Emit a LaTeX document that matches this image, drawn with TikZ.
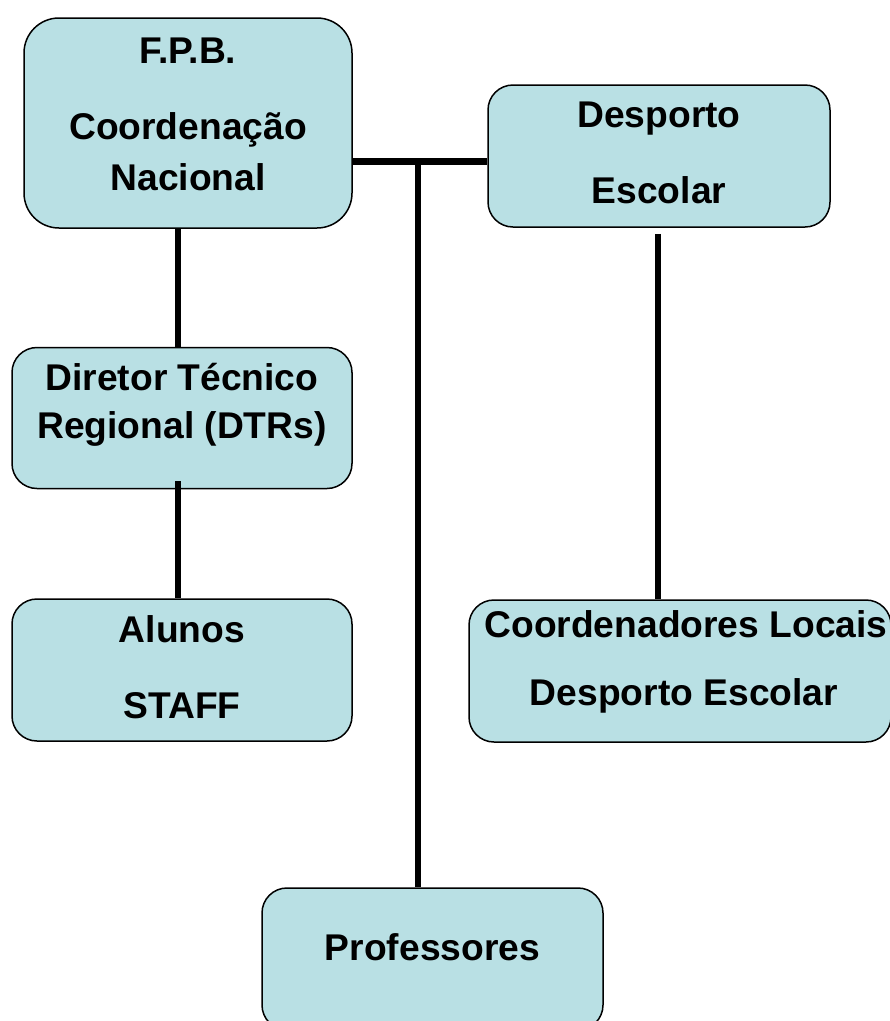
\documentclass[tikz,border=0pt]{standalone}
\usepackage{fontspec}
\setmainfont{Liberation Sans}
\definecolor{boxfill}{RGB}{185,224,228}
\begin{document}
\begin{tikzpicture}[x=1pt,y=-1pt,
  orgbox/.style={draw=black, line width=1.5pt, fill=boxfill, rounded corners=25pt, inner sep=0pt},
  lbl/.style={anchor=base, font=\fontsize{37.2}{44}\selectfont\bfseries, inner sep=0pt},
  conn/.style={line width=6.5pt}]
\useasboundingbox (0,0) rectangle (890,1021);
\begin{scope}
\clip (0,0) rectangle (890,1021);
% boxes
\node[orgbox, rounded corners=35pt, minimum width=328pt, minimum height=210pt] (fpb) at (188,123) {};
\node[orgbox, minimum width=342pt, minimum height=142pt] (desp) at (659,156) {};
\node[orgbox, minimum width=340pt, minimum height=141pt] (dtr) at (182,418) {};
\node[orgbox, minimum width=340pt, minimum height=142pt] (alunos) at (182,670) {};
\node[orgbox, minimum width=422pt, minimum height=142pt] (coord) at (680,671) {};
\node[orgbox, minimum width=341pt, minimum height=142pt] (prof) at (432.5,959) {};
% junction coordinates
\coordinate (j) at (418,161.5);
\coordinate (lx) at (178,0);
\coordinate (rx) at (658,0);
% connectors
\draw[conn] (fpb.east |- j) -- (desp.west |- j);
\draw[conn] (j) -- (j |- prof.north);
\draw[conn] (lx |- fpb.south) -- (lx |- dtr.north);
\draw[conn] ([yshift=8pt]dtr.south -| lx) -- (lx |- alunos.north);
\draw[conn] ([yshift=-6pt]desp.south -| rx) -- (rx |- coord.north);
% texts
\node[lbl] (t1) at (188,63) {F.P.B.};
\node[lbl] (t2) at (188,139) {Coordenação};
\node[lbl] (t3) at (188,190) {Nacional};
\node[lbl] (t4) at (659,127) {Desporto};
\node[lbl] (t5) at (659,203) {Escolar};
\node[lbl] (t6) at (182,390) {Diretor Técnico};
\node[lbl] (t7) at (182,438) {Regional (DTRs)};
\node[lbl] (t8) at (182,642) {Alunos};
\node[lbl] (t9) at (182,718) {STAFF};
\node[lbl] (t10) at (686,637) {Coordenadores Locais};
\node[lbl] (t11) at (684,705) {Desporto Escolar};
\node[lbl] (t12) at (432.5,960) {Professores};
\end{scope}
\end{tikzpicture}
\end{document}
